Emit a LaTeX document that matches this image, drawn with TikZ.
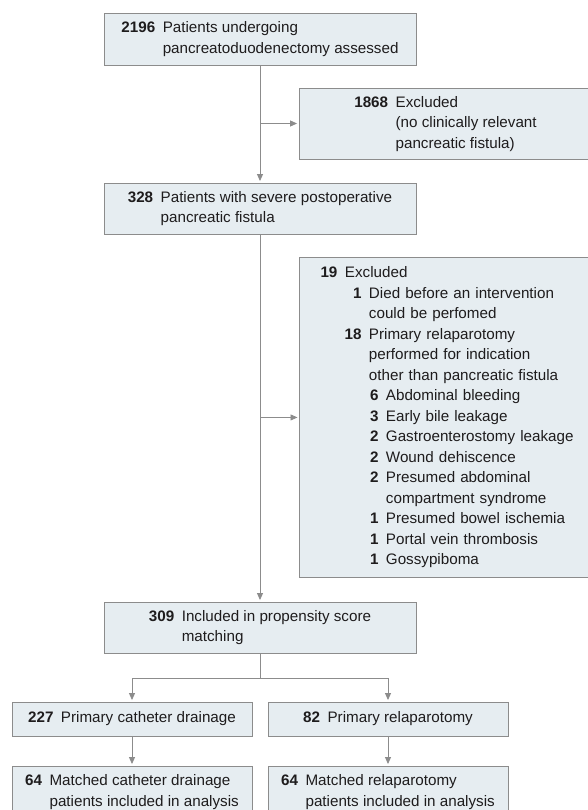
\documentclass[tikz,border=0pt]{standalone}
\usepackage{fontspec}
\setmainfont{Liberation Sans}
\usetikzlibrary{arrows.meta}
\definecolor{boxfill}{RGB}{230,237,241}
\definecolor{boxline}{RGB}{140,140,140}
\definecolor{textcol}{RGB}{30,28,29}
\newcommand{\entry}[3]{\makebox[#1][r]{\textbf{#2}}\hspace{7.5pt}#3}
\newcommand{\cont}[2]{\hspace*{#1}#2}
\begin{document}
\begin{tikzpicture}[x=1pt,y=-1pt]
        \tikzstyle{stage}=[draw=boxline,fill=boxfill,line width=0.9pt,inner sep=0pt,text=textcol,font=\fontsize{15.2}{20.5}\selectfont]
        \tikzstyle{edge}=[draw=boxline,line width=0.9pt,-{Triangle[length=7pt,width=6pt]},shorten >=1.5pt]
        \tikzstyle{link}=[draw=boxline,line width=0.9pt]
        \useasboundingbox (0,0) rectangle (587,810);
        \begin{scope}
                \node [stage,minimum width=312pt,minimum height=52pt] (s1) at (260,39) {\begin{tabular}{@{}r@{\hspace{7.5pt}}l@{}}\textbf{2196} & Patients undergoing\\ & pancreatoduodenectomy assessed\end{tabular}};
                \node [stage,minimum width=293pt,minimum height=71pt] (s2) at (445.5,123.5) {\begin{tabular}{@{}r@{\hspace{7.5pt}}l@{}}\textbf{1868} & Excluded\\ & (no clinically relevant\\ & pancreatic fistula)\end{tabular}};
                \node [stage,minimum width=312pt,minimum height=51pt] (s3) at (260,208.5) {\begin{tabular}{@{}r@{\hspace{7.5pt}}l@{}}\textbf{328} & Patients with severe postoperative\\ & pancreatic fistula\end{tabular}};
                \node [stage,anchor=north west,text width=260pt,align=left,inner xsep=18pt,minimum height=320pt] (s4) at (299,257) {\entry{20pt}{19}{Excluded}\\
                        \entry{44pt}{1}{Died before an intervention}\\
                        \cont{51.5pt}{could be perfomed}\\
                        \entry{44pt}{18}{Primary relaparotomy}\\
                        \cont{51.5pt}{performed for indication}\\
                        \cont{51.5pt}{other than pancreatic fistula}\\
                        \entry{61pt}{6}{Abdominal bleeding}\\
                        \entry{61pt}{3}{Early bile leakage}\\
                        \entry{61pt}{2}{Gastroenterostomy leakage}\\
                        \entry{61pt}{2}{Wound dehiscence}\\
                        \entry{61pt}{2}{Presumed abdominal}\\
                        \cont{68.5pt}{compartment syndrome}\\
                        \entry{61pt}{1}{Presumed bowel ischemia}\\
                        \entry{61pt}{1}{Portal vein thrombosis}\\
                        \entry{61pt}{1}{Gossypiboma}};
                \node [stage,minimum width=312pt,minimum height=51pt] (s5) at (260,627.5) {\begin{tabular}{@{}r@{\hspace{7.5pt}}l@{}}\textbf{309} & Included in propensity score\\ & matching\end{tabular}};
                \node [stage,minimum width=240pt,minimum height=34pt] (s6) at (132,719) {\textbf{227}\hspace{7.5pt}Primary catheter drainage};
                \node [stage,minimum width=240pt,minimum height=34pt] (s7) at (388,719) {\textbf{82}\hspace{7.5pt}Primary relaparotomy};
                \node [stage,minimum width=240pt,minimum height=52pt] (s8) at (132,792) {\begin{tabular}{@{}r@{\hspace{7.5pt}}l@{}}\textbf{64} & Matched catheter drainage\\ & patients included in analysis\end{tabular}};
                \node [stage,minimum width=240pt,minimum height=52pt] (s9) at (388,792) {\begin{tabular}{@{}r@{\hspace{7.5pt}}l@{}}\textbf{64} & Matched relaparotomy\\ & patients included in analysis\end{tabular}};
                \coordinate (j1) at (s1.south |- s2.west);
                \coordinate (j2) at (s3.south |- s4.west);
                \coordinate (j3) at (260,678);
                \path[edge] (s1) -- (s3);
                \path[edge] (j1) -- (s2.west);
                \path[edge] (s3) -- (s5);
                \path[edge] (j2) -- (s4.west);
                \path[link] (s5) -- (j3);
                \path[edge] (j3) -| (s6);
                \path[edge] (j3) -| (s7);
                \path[edge] (s6) -- (s8);
                \path[edge] (s7) -- (s9);
        \end{scope}
\end{tikzpicture}
\end{document}
